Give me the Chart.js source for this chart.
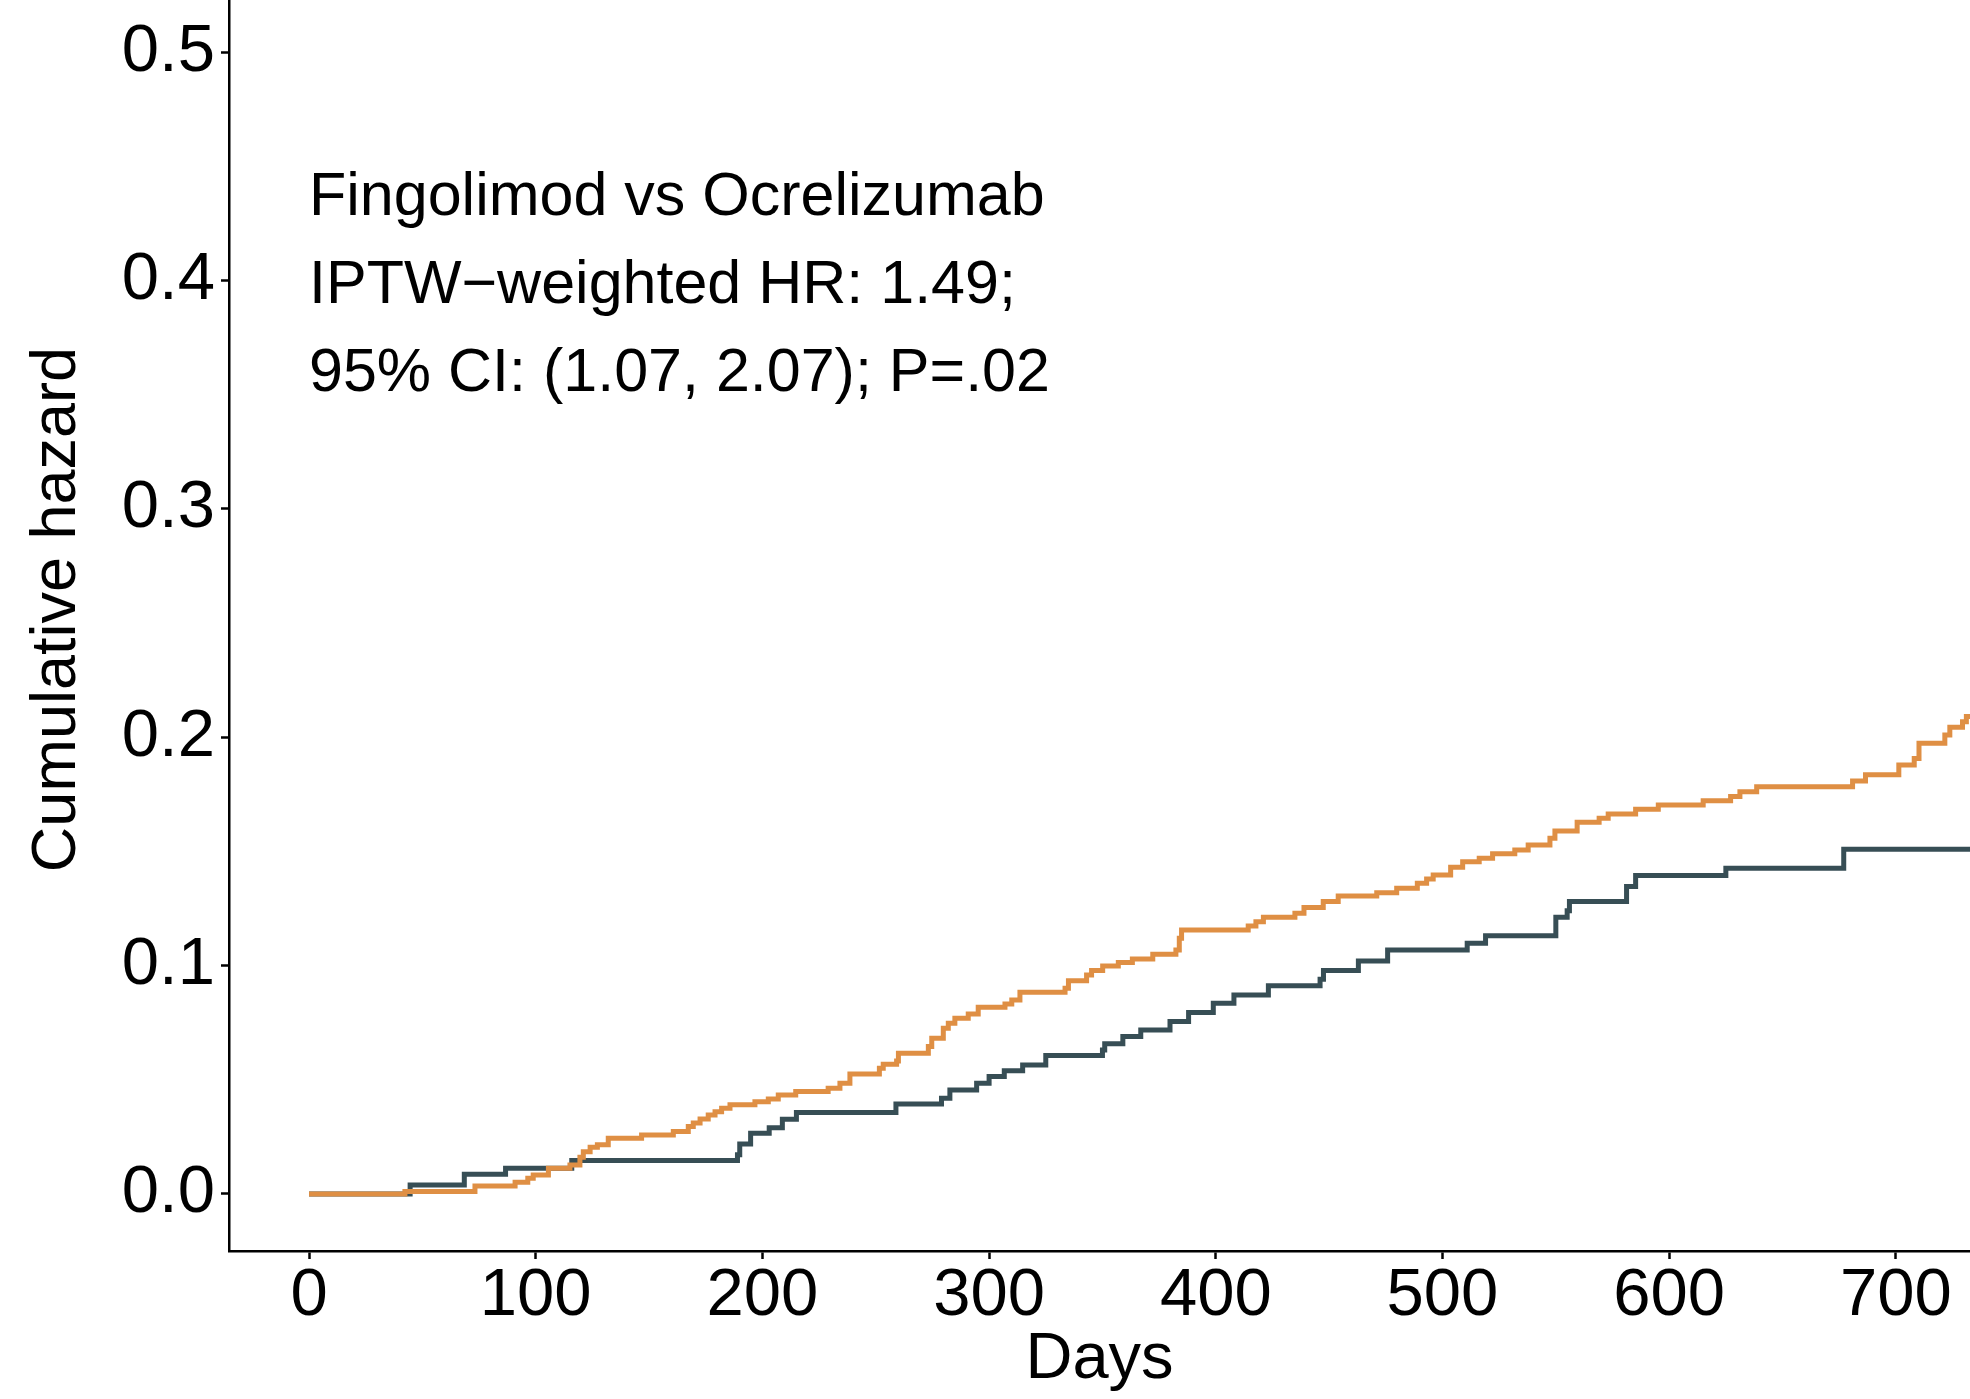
<!DOCTYPE html>
<html>
<head>
<meta charset="utf-8">
<title>Cumulative hazard</title>
<script src="https://cdn.jsdelivr.net/npm/chart.js@4.4.1/dist/chart.umd.min.js"></script>
<style>
  html, body { margin: 0; padding: 0; background: #fff; }
  #chart { display: block; }
</style>
</head>
<body>
<canvas id="chart" width="1970" height="1399"></canvas>
<script>
// step data (days, cumulative hazard)
const fingDays = [
  0, 42.3, 73.2, 90.9, 96.5, 98.9, 105.6, 115.1, 119.5, 121,
  124, 127.2, 132, 146.7, 160.7, 167.3, 169.5, 172.5, 176.1, 179.1,
  182, 185.7, 196.7, 202.6, 207, 214.7, 229, 234.2, 238.6, 251.6,
  253.3, 259.2, 260, 273.2, 274.7, 279.8, 282, 284.9, 290.8, 295.2,
  307, 310, 313.6, 333.5, 335, 343, 345.2, 350.1, 357, 363.2,
  372.2, 382.4, 383.9, 384.9, 414.3, 417.7, 421, 434.9, 438.9, 447.4,
  454, 471, 479.8, 488.9, 493, 495.9, 503.6, 508.9, 516.2, 522.1,
  531.9, 537.8, 547.4, 549.6, 559.4, 569.1, 573.1, 585.2, 595.2, 615,
  627.1, 631.2, 638.6, 680.9, 686.6, 701.3, 708.1, 710.2, 721.6, 723.8,
  729.4, 731.1, 735
];
const fingHazard = [
  0, 0.001, 0.0035, 0.0051, 0.0069, 0.0083, 0.0112, 0.0127, 0.016, 0.0185,
  0.0204, 0.0215, 0.0244, 0.0258, 0.0273, 0.0295, 0.031, 0.0328, 0.0346, 0.036,
  0.0375, 0.039, 0.0404, 0.0416, 0.0433, 0.0448, 0.0463, 0.0485, 0.0525, 0.055,
  0.0568, 0.0582, 0.0616, 0.0645, 0.0682, 0.0725, 0.0747, 0.0769, 0.0788, 0.0817,
  0.0832, 0.0849, 0.0883, 0.0901, 0.0933, 0.0959, 0.0978, 0.0998, 0.1013, 0.1029,
  0.1049, 0.1068, 0.112, 0.1156, 0.1173, 0.1192, 0.1211, 0.1229, 0.1254, 0.128,
  0.1305, 0.1319, 0.1338, 0.136, 0.1379, 0.1397, 0.143, 0.1455, 0.147, 0.1489,
  0.1506, 0.1528, 0.1557, 0.1589, 0.1627, 0.1645, 0.1664, 0.1684, 0.1703, 0.1722,
  0.174, 0.1761, 0.1783, 0.1808, 0.1835, 0.1878, 0.1907, 0.1973, 0.201, 0.2043,
  0.2068, 0.209, 0.209
];

const ocreDays = [
  0, 44.6, 68.5, 86.7, 115.9, 189, 190, 194.8, 203, 208.8,
  215, 258.9, 279, 282.7, 294.5, 300, 306.7, 314.8, 325, 350,
  351, 359, 366.9, 379.8, 388, 398.9, 408, 423.2, 446, 447.5,
  462.9, 475.8, 510.9, 519, 550, 555, 556, 581.2, 585.2, 625,
  677, 735
];
const ocreHazard = [
  0, 0.0039, 0.0086, 0.0112, 0.0146, 0.0171, 0.0219, 0.0266, 0.029, 0.0327,
  0.0356, 0.0394, 0.0419, 0.0455, 0.0485, 0.0514, 0.0539, 0.0565, 0.0606, 0.063,
  0.0657, 0.0689, 0.0718, 0.0755, 0.0794, 0.0835, 0.0871, 0.0912, 0.094, 0.0978,
  0.102, 0.1068, 0.1098, 0.113, 0.1211, 0.124, 0.128, 0.1346, 0.1394, 0.1426,
  0.1509, 0.1509
];

const xTicks = [0, 100, 200, 300, 400, 500, 600, 700];
const yTicks = [0, 0.1, 0.2, 0.3, 0.4, 0.5];

const xTitle = 'Days';
const yTitle = 'Cumulative hazard';

const annotLines = [
  'Fingolimod vs Ocrelizumab',
  'IPTW\u2212weighted HR: 1.49;',
  '95% CI: (1.07, 2.07); P=.02'
];
const annotX = 0;
const annotY = 0.4;

const FONT = "'Liberation Sans', Arial, Helvetica, sans-serif";
const ORANGE = '#DF8F44';
const SLATE = '#374E55';

function toPoints(xs, ys) {
  return xs.map((x, i) => ({ x, y: ys[i] }));
}

// annotation block + axis titles drawn as canvas text
const textPlugin = {
  id: 'plotText',
  afterDatasetsDraw(chart) {
    const { ctx, scales, chartArea } = chart;
    const x = scales.x.getPixelForValue(annotX);
    const yMid = scales.y.getPixelForValue(annotY) + 6;
    const gap = 88;
    ctx.save();
    ctx.fillStyle = '#000';
    ctx.font = '61px ' + FONT;
    ctx.textAlign = 'left';
    ctx.textBaseline = 'middle';
    annotLines.forEach((line, i) => {
      ctx.fillText(line, x, yMid + (i - 1) * gap);
    });
    ctx.restore();
  },
  afterDraw(chart) {
    const { ctx, chartArea } = chart;
    ctx.save();
    ctx.fillStyle = '#000';
    ctx.textAlign = 'center';
    ctx.textBaseline = 'alphabetic';
    ctx.font = '65px ' + FONT;
    ctx.fillText(xTitle, (chartArea.left + chartArea.right) / 2, 1378);

    ctx.translate(75, (chartArea.top + chartArea.bottom) / 2 - 16);
    ctx.rotate(-Math.PI / 2);
    ctx.font = '63px ' + FONT;
    ctx.fillText(yTitle, 0, 0);
    ctx.restore();
  }
};

const axisGrid = {
  drawOnChartArea: false,
  drawTicks: true,
  tickLength: 8,
  tickWidth: 2.5,
  tickColor: '#000'
};

new Chart(document.getElementById('chart'), {
  type: 'line',
  data: {
    datasets: [
      {
        label: 'Ocrelizumab',
        data: toPoints(ocreDays, ocreHazard),
        borderColor: SLATE,
        borderWidth: 5,
        stepped: true,
        pointRadius: 0,
        order: 2
      },
      {
        label: 'Fingolimod',
        data: toPoints(fingDays, fingHazard),
        borderColor: ORANGE,
        borderWidth: 5,
        stepped: true,
        pointRadius: 0,
        order: 1
      }
    ]
  },
  options: {
    responsive: false,
    animation: false,
    devicePixelRatio: 1,
    layout: { padding: 0 },
    plugins: {
      legend: { display: false },
      tooltip: { enabled: false }
    },
    scales: {
      x: {
        type: 'linear',
        min: -35.3,
        max: 732.7,
        afterBuildTicks: (s) => { s.ticks = xTicks.map(v => ({ value: v })); },
        afterFit: (s) => {
          s.height = 148;
          s.paddingLeft = 0; s.paddingRight = 0;
        },
        grid: axisGrid,
        border: { display: true, color: '#000', width: 2.5 },
        ticks: {
          color: '#000',
          padding: 4,
          maxRotation: 0,
          autoSkip: false,
          font: { family: FONT, size: 67, lineHeight: 1 },
          callback: (v) => String(v)
        }
      },
      y: {
        type: 'linear',
        min: -0.025,
        max: 0.5228,
        afterBuildTicks: (s) => { s.ticks = yTicks.map(v => ({ value: v })); },
        afterFit: (s) => {
          s.width = 229;
          s.paddingTop = 0; s.paddingBottom = 0;
        },
        grid: axisGrid,
        border: { display: true, color: '#000', width: 2.5 },
        ticks: {
          color: '#000',
          padding: 6,
          autoSkip: false,
          font: { family: FONT, size: 67, lineHeight: 1 },
          callback: (v) => v.toFixed(1)
        }
      }
    }
  },
  plugins: [textPlugin]
});
</script>
</body>
</html>
